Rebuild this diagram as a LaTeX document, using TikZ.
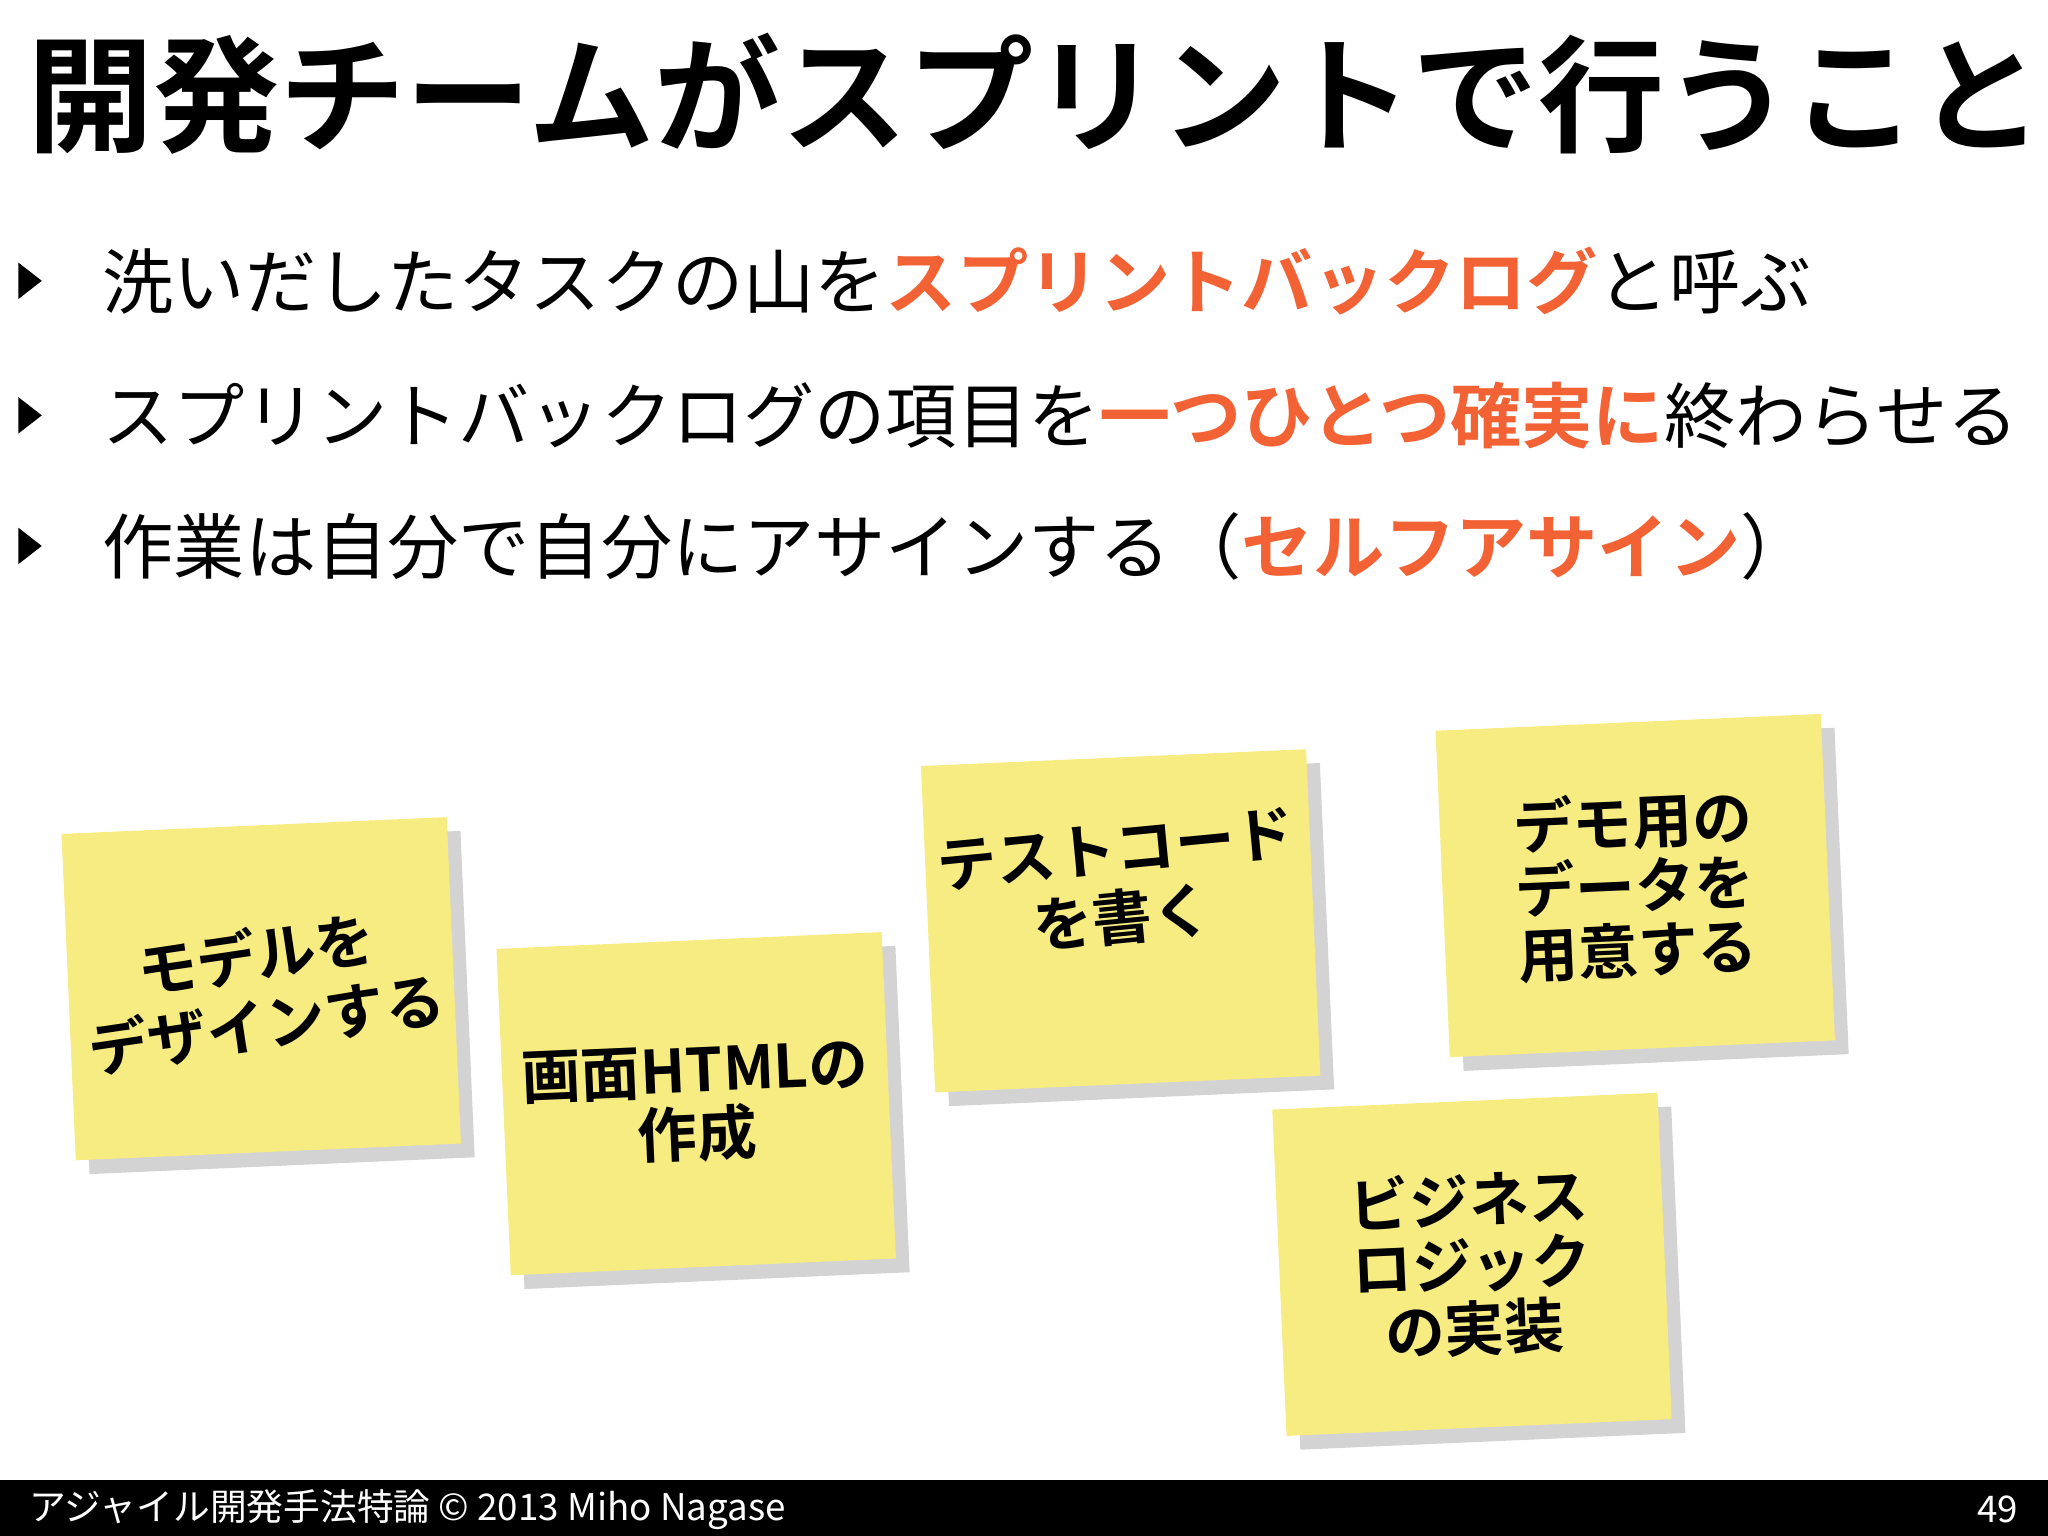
\documentclass[tikz,border=0pt]{standalone}
\usepackage{fontspec}
\setmainfont{Noto Sans CJK JP}
\newfontfamily\jpb{Noto Sans CJK JP Bold}
\usetikzlibrary{shadows}
\definecolor{orng}{RGB}{242,98,52}
\definecolor{sticky}{RGB}{247,236,130}
\begin{document}
\begin{tikzpicture}[x=0.01cm,y=-0.01cm,
  bul/.style={anchor=west,inner sep=0,font=\fontsize{15.5}{18}\selectfont},
  tri/.style={fill=black},
  note/.style={fill=sticky,minimum width=2.95cm,minimum height=2.5cm,inner sep=0,
    drop shadow={shadow xshift=3pt,shadow yshift=-3pt,opacity=0.35},
    align=center,font=\fontsize{13}{14}\selectfont\jpb}]
\useasboundingbox (0,0) rectangle (1568,1176);
\node[anchor=west,inner sep=0,font=\fontsize{27.5}{30}\selectfont\jpb] (title) at (20,72) {開発チームがスプリントで行うこと};
\foreach \y in {215,318,418}{
  \fill[tri] (14,\y-14) -- (32,\y) -- (14,\y+14) -- cycle;
}
\node[bul] (b1) at (78,215) {洗いだしたタスクの山を\textcolor{orng}{\jpb スプリントバックログ}と呼ぶ};
\node[bul] (b2) at (78,318) {スプリントバックログの項目を\textcolor{orng}{\jpb 一つひとつ確実に}終わらせる};
\node[bul] (b3) at (78,418) {作業は自分で自分にアサインする（\textcolor{orng}{\jpb セルフアサイン}）};
\node[note,rotate=2.5] (n1) at (200,757) {\rotatebox{6}{\shortstack{モデルを\\デザインする}}};
\node[note,rotate=2.5] (n2) at (533,845) {画面HTMLの\\作成};
\node[note,rotate=2.5] (n3) at (858,705) {\raisebox{6mm}{\rotatebox{3}{\shortstack{テストコード\\を書く}}}};
\node[note,rotate=2.5] (n4) at (1252,678) {デモ用の\\データを\\用意する};
\node[note,rotate=2.5] (n5) at (1127,968) {ビジネス\\ロジック\\の実装};
\fill[black] (0,1133) rectangle (1568,1176);
\node[anchor=west,text=white,inner sep=0,font=\fontsize{8}{9}\selectfont] (ft) at (22,1156) {アジャイル開発手法特論 © 2013 Miho Nagase};
\node[anchor=east,text=white,inner sep=0,font=\fontsize{8}{9}\selectfont] (pg) at (1546,1156) {49};
\end{tikzpicture}
\end{document}
